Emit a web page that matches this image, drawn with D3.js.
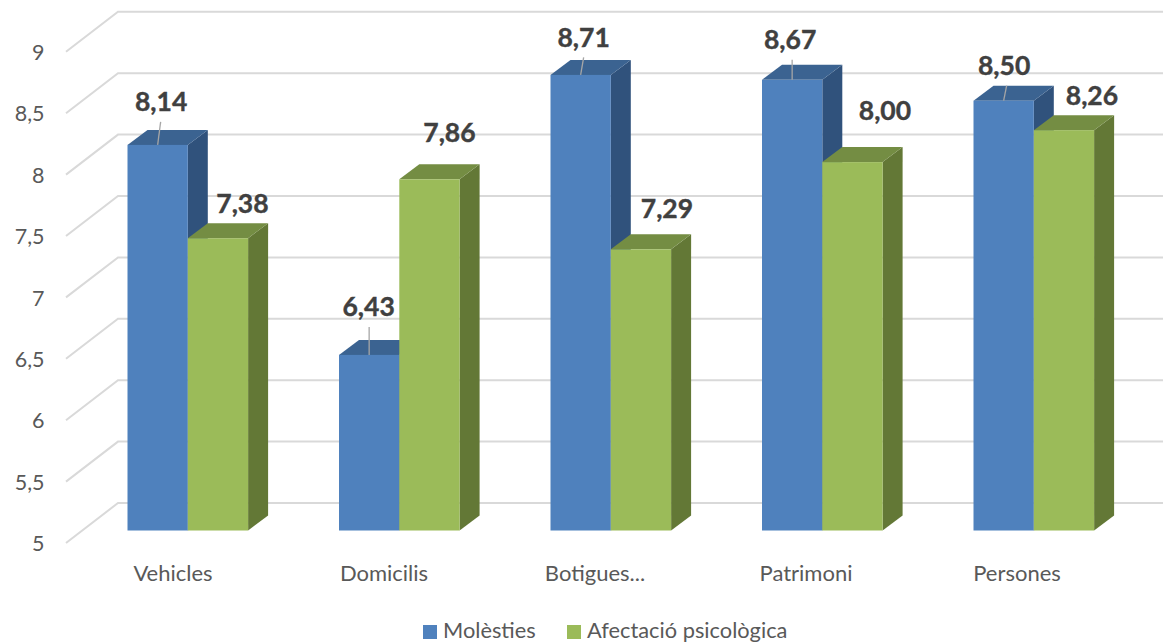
<!DOCTYPE html>
<html><head><meta charset="utf-8">
<script src="https://d3js.org/d3.v7.min.js"></script>
<style>html,body{margin:0;padding:0;background:#fff}svg{display:block}
text{font-family:Lato,"Open Sans",sans-serif}</style></head>
<body><svg id="c" width="1163" height="643"></svg>
<script>
const categories=["Vehicles","Domicilis","Botigues...","Patrimoni","Persones"];
const seriesNames=["Molèsties","Afectació psicològica"];
const molesties=[8.14,6.43,8.71,8.67,8.50];
const afectacio=[7.38,7.86,7.29,8.00,8.26];
const yTicks=[5,5.5,6,6.5,7,7.5,8,8.5,9];

// layout
const W=1163,H=643;
const dx3=20,dy3=15;                // bar depth
const floorY=530.5, topY=39.3;
const y=d3.scaleLinear().domain([5,9]).range([floorY,topY]);
const x0=d3.scaleLinear().domain([0,5]).range([127.5,1185]);
const barW=60.3;
const axisLeftX=66, wallX=118;
const fills=[{f:"#4F81BD",t:"#3B6391",s:"#30527C"},{f:"#9BBB59",t:"#748D43",s:"#637836"}];
// label centre offsets from the bar's front-top-centre, per series/category
const labelOff=[[[3.5,-43],[-0.5,-48],[3,-37.5],[-2,-40],[0.5,-35]],
                [[24.5,-35],[20,-47],[26,-41],[32.5,-52],[28,-35]]];
const leaderOff=[[3,0,3,0,3]];

const svg=d3.select("#c");
// gridlines
const grid=svg.append("g").attr("fill","none").attr("stroke","#D9D9D9").attr("stroke-width",2);
grid.selectAll("path").data(yTicks).join("path")
  .attr("d",d=>{const b=y(d)-27.5;return `M${axisLeftX},${b+40} L${wallX},${b} L${W},${b}`;});

// tick labels
const yAxis=d3.axisLeft(d3.scaleLinear().domain([5,9]).range([floorY+12.5,topY+12.5]))
  .tickValues(yTicks).tickSize(0).tickPadding(0)
  .tickFormat(d=>String(d).replace(".",","));
const ya=svg.append("g").attr("transform","translate(44.5,0)").call(yAxis);
ya.select(".domain").remove();
ya.selectAll("text").attr("font-size",21.5).attr("fill","#595959").attr("font-family","Lato").attr("dy","0.36em");

// bars
const values=[molesties,afectacio];
values.forEach((vals,si)=>{
  const g=svg.append("g");
  const c=fills[si];
  vals.forEach((v,i)=>{
    const xl=x0(i)+si*barW, xr=xl+barW, yt=y(v), yb=y(5);
    g.append("path").attr("fill",c.s)
      .attr("d",`M${xr},${yt}L${xr+dx3},${yt-dy3}L${xr+dx3},${yb-dy3}L${xr},${yb}Z`);
    g.append("path").attr("fill",c.t)
      .attr("d",`M${xl},${yt}L${xl+dx3},${yt-dy3}L${xr+dx3},${yt-dy3}L${xr},${yt}Z`);
    g.append("rect").attr("x",xl).attr("y",yt).attr("width",barW).attr("height",yb-yt).attr("fill",c.f);
  });
});

// leader lines and labels (drawn above every bar)
molesties.forEach((v,i)=>{
  const cx=x0(i)+barW/2, yt=y(v);
  svg.append("line").attr("x1",cx).attr("y1",yt).attr("x2",cx+leaderOff[0][i])
    .attr("y2",yt+labelOff[0][i][1]+20).attr("stroke","#A6A6A6").attr("stroke-width",1.3);
});
values.forEach((vals,si)=>vals.forEach((v,i)=>{
  const cx=x0(i)+si*barW+barW/2, yt=y(v), o=labelOff[si][i];
  svg.append("text").attr("x",cx+o[0]).attr("y",yt+o[1]).attr("dy","0.36em")
    .attr("text-anchor","middle").attr("font-size",26.5).attr("font-weight",700)
    .attr("stroke","#404040").attr("stroke-width",0.4)
    .attr("fill","#404040").text(d3.format(".2f")(v).replace(".",","));
}));

// category labels
const xAxis=d3.axisBottom(d3.scalePoint().domain(categories).range([172.5,1016.5])).tickSize(0).tickPadding(0);
const xa=svg.append("g").attr("transform","translate(0,573)").call(xAxis);
xa.select(".domain").remove();
xa.selectAll("text").attr("font-size",22).attr("fill","#595959").attr("font-family","Lato").attr("dy","0.36em").attr("y",0);

// legend
const leg=svg.append("g");
[[423,443],[567,587]].forEach((p,i)=>{
  leg.append("rect").attr("x",p[0]).attr("y",625).attr("width",14).attr("height",14).attr("fill",fills[i].f);
  leg.append("text").attr("x",p[1]).attr("y",630).attr("dy","0.36em").attr("font-size",21.8).attr("fill","#595959").text(seriesNames[i]);
});
</script></body></html>
